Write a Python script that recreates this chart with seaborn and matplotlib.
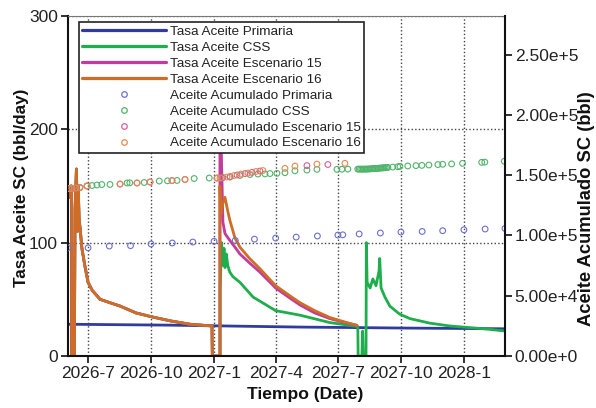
import numpy as np
import pandas as pd
import matplotlib
matplotlib.use("Agg")
import matplotlib.pyplot as plt
import matplotlib.dates as mdates
from matplotlib.lines import Line2D
from matplotlib.ticker import FuncFormatter
import seaborn as sns

sns.set_style("ticks")
plt.rcParams['font.family'] = ['Liberation Sans', 'DejaVu Sans']

# ---------------- data (days since 2026-06-01) ----------------
inicio = "2026-06-01"

# Tasa Aceite Primaria (bbl/day)
prim_dias = [0, 150, 340, 500, 639]
prim_tasa = [28.0, 27.2, 25.5, 24.6, 24.0]

# first cycle (shared by CSS, Escenario 15, Escenario 16)
ciclo1_dias = [0, 0, 3, 5, 6, 6, 10, 11, 13, 14.5, 15.5, 17, 18.5, 21, 25.5, 30, 36,
               47.5, 62, 77, 100, 122, 150, 179, 211, 211.5]
ciclo1_tasa = [0, 145, 140, 150, 150, 0, 0, 130, 165, 110, 150, 120, 112, 95, 79, 65, 58,
               50, 47, 44, 38, 34.7, 31, 28, 26.5, 0]

# second cycle, Escenario 16
esc16_dias = [222.6, 222.6, 224, 227, 230, 234, 237, 244.6, 251.8, 266, 281, 304, 325,
              339.6, 361, 383, 405, 422.7]
esc16_tasa = [0, 150, 125, 135, 140, 128, 120, 104, 96, 86, 77, 62, 53, 47, 40, 34, 30, 27]

# second cycle, Escenario 15
esc15_dias = [222.6, 222.6, 225, 227, 230, 237, 244.6, 251.8, 266, 281, 304, 325, 339.6,
              361, 383, 405, 422.7]
esc15_tasa = [0, 240, 170, 118, 108, 102, 96, 90, 82, 74, 60, 51, 45, 38, 33, 29.5, 27]

# second + third cycle, CSS
css_dias = [223, 223, 225, 227, 228.6, 230, 232, 234, 237, 241.6, 251.8, 271, 304, 339.6,
            383, 424, 424.5, 430, 431, 432, 436, 436.5, 437.6, 442, 446, 450.6, 455, 456,
            458, 463.6, 470.8, 485, 500, 529, 558, 588, 617, 639]
css_tasa = [0, 60, 100, 80, 95, 78, 90, 80, 74, 70, 65, 52, 40, 36, 29.5, 26, 0, 0, 22, 0,
            0, 100, 65, 60, 68, 62, 75, 86, 60, 52, 44, 37, 33, 29, 26.5, 25, 23.5, 22]

# Aceite Acumulado (bbl)
acu_prim_dias = [0, 30, 61, 92, 122, 153, 183, 214, 245, 273, 304, 334, 365, 395, 402,
                 426, 457, 487, 518, 548, 579, 610, 639]
acu_prim = [89600, 89700, 91200, 91500, 92900, 93700, 94500, 95100, 95800, 96900, 97800,
            98600, 99500, 100300, 100500, 101200, 102000, 102800, 103300, 103900, 104700,
            105300, 105800]

acu_css_dias = [2, 6.6, 12.4, 18, 28.5, 35.8, 43, 50, 62, 87, 91, 112, 134, 146, 160, 185,
                207, 225.6, 237.3, 251.9, 266.5, 278.1, 288.4, 295.7, 305.9, 317.6, 332.2,
                349.7, 364.3, 393.5, 400.8, 409.5,
                424, 426, 428, 430, 432, 434, 436, 438, 440, 442, 444, 446, 448, 450, 452,
                454, 456, 458, 460, 462, 464, 466, 468,
                475, 482.5, 485.5, 497, 509, 517.6, 527.8, 541, 548, 561, 577, 605, 609.5, 638]
acu_css = [138900, 139000, 139300, 139700, 141000, 141400, 141800, 142200, 142300, 143500,
           143600, 143900, 145100, 145300, 145600, 147200, 147600, 147700, 148400, 149700,
           150500, 150900, 151000, 151300, 151500, 152000, 153600, 154200, 154800, 154800,
           154900, 155000,
           155000, 155000, 155000, 155000, 155000, 155000, 155000, 155100, 155100, 155200,
           155300, 155400, 155500, 155500, 155600, 155700, 155800, 155900, 156000, 156100,
           156200, 156300, 156400,
           156700, 157000, 157200, 157600, 157900, 158100, 158400, 158800, 159000, 159300,
           159800, 160600, 160800, 161500]

acu_ciclo1_dias = [2, 6.6, 12.4, 18, 28.5, 76.7, 101.5, 120.5, 152.6, 171.6, 218.4]
acu_ciclo1 = [138900, 139000, 139300, 139700, 141000, 142600, 143500, 144300, 145500,
              146400, 147600]

acu_esc15_dias = [227, 237.3, 247.5, 259.2, 269.4, 281, 349.7, 380.3]
acu_esc15 = [148000, 148800, 150100, 151300, 152300, 153400, 157900, 158800]

acu_esc16_dias = [222.7, 232.9, 243.1, 253.3, 263.5, 275.2, 285.4, 317.6, 332.2, 364.3, 405.2]
acu_esc16 = [147600, 148400, 149700, 150900, 151700, 153000, 153800, 155600, 157500,
             159200, 159800]

etiquetas = ["Tasa Aceite Primaria", "Tasa Aceite CSS", "Tasa Aceite Escenario 15",
             "Tasa Aceite Escenario 16", "Aceite Acumulado Primaria", "Aceite Acumulado CSS",
             "Aceite Acumulado Escenario 15", "Aceite Acumulado Escenario 16"]

col_lin = {"prim": "#2f3c9e", "css": "#1fae4c", "e15": "#c23c9c", "e16": "#cf6d27"}
col_pts = {"prim": "#6b6fd0", "css": "#52b36a", "e15": "#d85f9c", "e16": "#e38a4e"}


def fechas(d):
    return pd.Timestamp(inicio) + pd.to_timedelta(np.asarray(d, dtype=float), unit="D")


# ---------------- figure ----------------
fig = plt.figure(figsize=(5.96, 4.08), dpi=100)
fig.patch.set_facecolor("white")
ax = fig.add_axes([0.1133, 0.1275, 0.734, 0.8333])

series = [
    ("prim", prim_dias, prim_tasa),
    ("css", ciclo1_dias + css_dias, ciclo1_tasa + css_tasa),
    ("e15", ciclo1_dias + esc15_dias, ciclo1_tasa + esc15_tasa),
    ("e16", ciclo1_dias + esc16_dias, ciclo1_tasa + esc16_tasa),
]
for key, d, v in series:
    sns.lineplot(x=fechas(d), y=v, ax=ax, color=col_lin[key], lw=2.0,
                 estimator=None, sort=False, legend=False)

ax.set_ylim(0, 300)
ax.set_yticks([0, 100, 200, 300])
ax.set_xlim(pd.Timestamp("2026-06-01"), pd.Timestamp("2028-03-01"))
ax.xaxis.set_major_locator(mdates.MonthLocator(bymonth=[1, 4, 7, 10]))
ax.xaxis.set_major_formatter(FuncFormatter(
    lambda v, p: f"{mdates.num2date(v).year}-{mdates.num2date(v).month}"))
ax.grid(True, linestyle=(0, (1, 1.6)), color="#444444", lw=1.0)
ax.tick_params(axis="both", direction="out", length=5, width=1.3, labelsize=12.5, pad=2,
               colors="#222222")
ax.set_xlabel("Tiempo (Date)", fontsize=12.6, fontweight="bold", color="#111111")
ax.set_ylabel("Tasa Aceite SC (bbl/day)", fontsize=12.3, fontweight="bold", color="#111111")
ax.xaxis.set_label_coords(0.543, -0.092)
ax.yaxis.set_label_coords(-0.088, 0.494)
for s in ["left", "bottom"]:
    ax.spines[s].set_linewidth(1.5)
    ax.spines[s].set_color("#111111")
ax.spines["right"].set_visible(False)
ax.spines["top"].set_linewidth(0.8)
ax.spines["top"].set_color("#777777")

ax2 = ax.twinx()
pts = [
    ("prim", acu_prim_dias, acu_prim),
    ("css", acu_css_dias, acu_css),
    ("e15", acu_ciclo1_dias + acu_esc15_dias, acu_ciclo1 + acu_esc15),
    ("e16", acu_ciclo1_dias + acu_esc16_dias, acu_ciclo1 + acu_esc16),
]
for key, d, v in pts:
    sns.scatterplot(x=fechas(d), y=v, ax=ax2, marker="o", s=17, facecolor="none",
                    edgecolor=col_pts[key], linewidth=0.8, legend=False)

ax2.set_ylim(0, 2.82e5)
ax2.set_yticks([0, 5e4, 1e5, 1.5e5, 2e5, 2.5e5])


def fmt_sci(v, p):
    if v == 0:
        return "0.00e+0"
    e = int(np.floor(np.log10(abs(v))))
    return f"{v / 10 ** e:.2f}e+{e}"


ax2.yaxis.set_major_formatter(FuncFormatter(fmt_sci))
ax2.tick_params(axis="y", direction="out", length=5, width=1.3, labelsize=12.5, pad=2,
                colors="#222222")
ax2.set_ylabel("Aceite Acumulado SC (bbl)", fontsize=13.2, fontweight="bold", color="#111111")
ax2.yaxis.set_label_coords(1.167, 0.432)
ax2.spines["right"].set_linewidth(1.5)
ax2.spines["right"].set_color("#111111")
ax2.spines["left"].set_visible(False)
ax2.spines["top"].set_visible(False)
ax2.spines["bottom"].set_visible(False)
ax2.set_xlim(pd.Timestamp("2026-06-01"), pd.Timestamp("2028-03-01"))

handles = [Line2D([], [], color=col_lin[k], lw=2.3) for k in ["prim", "css", "e15", "e16"]]
handles += [Line2D([], [], color=col_pts[k], marker="o", ls="none", markersize=4,
                   markerfacecolor="none", markeredgewidth=0.9)
            for k in ["prim", "css", "e15", "e16"]]
leg = ax2.legend(handles, etiquetas, loc="upper left", bbox_to_anchor=(0.0263, 0.982),
                 borderaxespad=0, frameon=True, fancybox=False, edgecolor="#222222",
                 fontsize=9.7, handlelength=6.2, handletextpad=0.3, labelspacing=0.26,
                 borderpad=0.25, framealpha=1)
leg.get_frame().set_linewidth(1.2)
for t in leg.get_texts():
    t.set_color("#222222")

fig.savefig("out.png", dpi=100, facecolor="white")
